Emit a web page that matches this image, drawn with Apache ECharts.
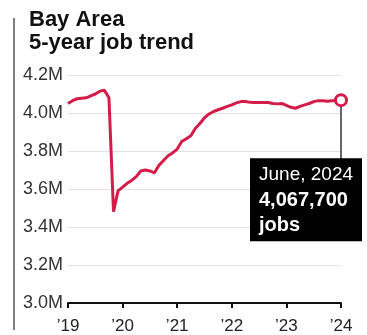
<!DOCTYPE html>
<html>
<head>
<meta charset="utf-8">
<script src="https://cdn.jsdelivr.net/npm/echarts@6/dist/echarts.min.js"></script>
<style>
html,body{margin:0;padding:0;background:#fff;}
#c{width:367px;height:335px;}
</style>
</head>
<body>
<div id="c"></div>
<script>
// Months from June 2019 to June 2024 (61 monthly points)
const months = [];
(function(){
  const names = ["Jan","Feb","Mar","Apr","May","Jun","Jul","Aug","Sep","Oct","Nov","Dec"];
  let y = 2019, m = 5;
  for (let i = 0; i <= 60; i++) { months.push(names[m] + " " + y); m++; if (m > 11) { m = 0; y++; } }
})();

// Jobs, millions
const jobs = [
  4.050, 4.065, 4.075, 4.078, 4.080, 4.090, 4.100, 4.115, 4.120, 4.080,
  3.480, 3.590, 3.610, 3.630, 3.645, 3.665, 3.695, 3.700, 3.695, 3.685,
  3.725, 3.750, 3.775, 3.790, 3.810, 3.850, 3.865, 3.880, 3.920, 3.945,
  3.975, 3.995, 4.008, 4.017, 4.025, 4.035, 4.043, 4.053, 4.060, 4.060,
  4.056, 4.055, 4.055, 4.055, 4.055, 4.050, 4.048, 4.050, 4.040, 4.030,
  4.025, 4.035, 4.043, 4.050, 4.060, 4.065, 4.065, 4.062, 4.065, 4.066,
  4.0677
];

const tickLabels = ["\u201919", "\u201920", "\u201921", "\u201922", "\u201923", "\u201924"];
const yTicks = [3.0, 3.2, 3.4, 3.6, 3.8, 4.0, 4.2];

const titleLines = ["Bay Area", "5-year job trend"];
const noteDate = "June, 2024";
const noteValue = "4,067,700";
const noteUnit = "jobs";

const RED = "#d41c4b";
const chart = echarts.init(document.getElementById('c'), null, {renderer: 'canvas'});

const option = {
  animation: false,
  backgroundColor: '#fff',
  title: {
    text: titleLines.join('\n'),
    left: 29, top: 8, padding: 0,
    textStyle: {fontFamily: 'Liberation Sans', fontWeight: 'bold', fontSize: 22, lineHeight: 23, color: '#111'}
  },
  grid: {left: 68, right: 26, top: 75, bottom: 31, containLabel: false},
  xAxis: {
    type: 'category',
    data: months,
    boundaryGap: false,
    axisLine: {show: true, lineStyle: {color: '#111', width: 2}},
    axisTick: {show: true, interval: 11, length: 5, lineStyle: {color: '#111', width: 2}},
    axisLabel: {
      interval: 11, margin: 15,
      fontFamily: 'Liberation Sans', fontSize: 17, color: '#222',
      formatter: function (v, i) { return tickLabels[Math.round(i / 12)]; }
    },
    splitLine: {show: false}
  },
  yAxis: {
    type: 'value',
    min: yTicks[0], max: yTicks[yTicks.length - 1], interval: 0.2,
    axisLine: {show: false}, axisTick: {show: false},
    axisLabel: {
      margin: 5, fontFamily: 'Liberation Sans', fontSize: 18, color: '#333',
      formatter: function (v) { return v.toFixed(1) + 'M'; }
    },
    splitLine: {show: true, lineStyle: {color: '#e2e2e2', width: 1}}
  },
  series: [{
    type: 'line',
    data: jobs.map(function (v, i) {
      if (i === jobs.length - 1) {
        return {value: v, symbol: 'circle', symbolSize: 11,
          itemStyle: {color: '#fff', borderColor: RED, borderWidth: 3}};
      }
      return {value: v, symbol: 'none'};
    }),
    showSymbol: true,
    lineStyle: {color: RED, width: 3},
    itemStyle: {color: RED},
    z: 5
  }]
};
chart.setOption(option);

const last = jobs.length - 1;
const p = chart.convertToPixel({xAxisIndex: 0, yAxisIndex: 0}, [last, jobs[last]]);
const px = p[0], py = p[1];
chart.setOption({
  graphic: [
    {type: 'line', shape: {x1: 14, y1: 18, x2: 14, y2: 330}, style: {stroke: '#555', lineWidth: 1.5}, silent: true},
    {type: 'line', z: 1, shape: {x1: px, y1: py + 5, x2: px, y2: py + 60}, style: {stroke: '#333', lineWidth: 1.5}, silent: true},
    {type: 'rect', z: 2, shape: {x: px - 91, y: py + 58, width: 112, height: 83}, style: {fill: '#000'}, silent: true},
    {type: 'text', z: 3, x: px - 82, y: py + 75, style: {text: noteDate, fill: '#fff', font: '19px "Liberation Sans"', textAlign: 'left', textVerticalAlign: 'middle'}},
    {type: 'text', z: 3, x: px - 82, y: py + 100, style: {text: noteValue, fill: '#fff', font: 'bold 20px "Liberation Sans"', textAlign: 'left', textVerticalAlign: 'middle'}},
    {type: 'text', z: 3, x: px - 82, y: py + 125, style: {text: noteUnit, fill: '#fff', font: 'bold 20px "Liberation Sans"', textAlign: 'left', textVerticalAlign: 'middle'}}
  ]
});
</script>
</body>
</html>
